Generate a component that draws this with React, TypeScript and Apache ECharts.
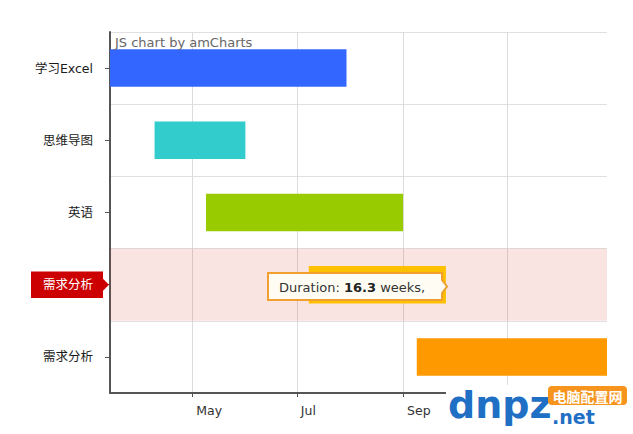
import React, { useEffect, useRef } from 'react';
import * as echarts from 'echarts';

const categories = ['学习Excel', '思维导图', '英语', '需求分析', '需求分析'];
const startDates = ['2016-03-14', '2016-04-09', '2016-05-09', '2016-07-08', '2016-09-09'];
const endDates = ['2016-07-30', '2016-06-01', '2016-09-01', '2016-09-26', '2016-12-29'];
const barColors = ['#3366FF', '#33CCCC', '#99CC00', '#FFC000', '#FF9900'];
const monthLabels = ['Jan', 'Feb', 'Mar', 'Apr', 'May', 'Jun', 'Jul', 'Aug', 'Sep', 'Oct', 'Nov', 'Dec'];
// tick labels visible in the reference (Nov is hidden behind the watermark)
const visibleTickLabels = ['May', 'Jul', 'Sep'];
const axisMin = '2016-03-14';
const axisMax = '2016-12-29';
const highlightIndex = 3;
const tooltipParts = ['Duration: ', '16.3', ' weeks,'];

const FONT = '"DejaVu Sans", "Noto Sans CJK SC", sans-serif';

export default function App() {
  const ref = useRef<HTMLDivElement>(null);

  useEffect(() => {
    if (!ref.current) return;
    const chart = echarts.init(ref.current, null, { renderer: 'svg' });
    const parse = (s: string) => +echarts.time.parse(s);

    const taskData = categories.map((_, i) => [i, parse(startDates[i]), parse(endDates[i])]);

    const option: any = {
      animation: false,
      grid: { left: 110, right: 26, top: 32, bottom: 41, containLabel: false },
      xAxis: {
        type: 'time',
        min: parse(axisMin),
        max: parse(axisMax),
        splitNumber: 4,
        axisLine: { show: true, lineStyle: { color: '#555', width: 2 } },
        axisTick: { show: true, length: 4, lineStyle: { color: '#555' } },
        splitLine: { show: true, showMaxLine: false, lineStyle: { color: '#dcdcdc' } },
        axisLabel: {
          color: '#333',
          fontSize: 12.5,
          fontFamily: FONT,
          margin: 11,
          align: 'left',
          padding: [0, 0, 0, 4],
          hideOverlap: false,
          formatter: (value: number) => {
            const d = new Date(value);
            if (d.getDate() !== 1) return '';
            const m = monthLabels[d.getMonth()];
            return visibleTickLabels.indexOf(m) >= 0 ? m : '';
          },
        },
      },
      yAxis: {
        type: 'category',
        data: categories,
        inverse: true,
        axisLine: { show: true, lineStyle: { color: '#555', width: 2 } },
        axisTick: { show: true, alignWithLabel: true, length: 5, lineStyle: { color: '#555' } },
        splitLine: { show: true, lineStyle: { color: '#e0e0e0' } },
        axisLabel: {
          margin: 7,
          fontSize: 12.5,
          fontFamily: FONT,
          color: '#1a1a1a',
          formatter: (v: string, i: number) => (i === highlightIndex ? `{hl|${v}}` : `{n|${v}}`),
          rich: {
            n: { padding: [0, 10, 0, 0], fontSize: 12.5, fontFamily: FONT, color: '#1a1a1a' },
            hl: {
              backgroundColor: '#CC0000',
              color: '#ffffff',
              padding: [7, 10, 7, 12],
              fontSize: 12.5,
              fontFamily: FONT,
            },
          },
        },
      },
      series: [
        {
          type: 'custom',
          name: 'band',
          silent: true,
          z: 1,
          data: [[highlightIndex]],
          encode: { y: 0 },
          renderItem: (params: any, api: any) => {
            const idx = api.value(0);
            const c = api.coord([parse(axisMin), idx]);
            const h = api.size([0, 1])[1];
            const cs = params.coordSys;
            return {
              type: 'group',
              children: [
                {
                  type: 'rect',
                  shape: { x: cs.x, y: c[1] - h / 2, width: cs.width, height: h },
                  style: { fill: 'rgba(215,50,30,0.13)' },
                },
                {
                  type: 'polygon',
                  shape: {
                    points: [
                      [cs.x - 8, c[1] - 7],
                      [cs.x - 1, c[1]],
                      [cs.x - 8, c[1] + 7],
                    ],
                  },
                  style: { fill: '#CC0000' },
                },
              ],
            };
          },
        },
        {
          type: 'custom',
          name: 'tasks',
          z: 2,
          data: taskData,
          encode: { x: [1, 2], y: 0 },
          renderItem: (params: any, api: any) => {
            const idx = api.value(0);
            const s = api.coord([api.value(1), idx]);
            const e = api.coord([api.value(2), idx]);
            const h = api.size([0, 1])[1] * 0.52;
            const cs = params.coordSys;
            const shape = echarts.graphic.clipRectByRect(
              { x: s[0], y: s[1] - h / 2, width: e[0] - s[0], height: h },
              { x: cs.x, y: cs.y, width: cs.width, height: cs.height }
            );
            return shape && { type: 'rect', shape, style: { fill: barColors[idx] } };
          },
        },
      ],
      graphic: {
        elements: [
          {
            type: 'text',
            x: 115,
            y: 36,
            z: 100,
            style: { text: 'JS chart by amCharts', fill: '#666', font: `13px ${FONT}` },
          },
          {
            type: 'polygon',
            z: 100,
            shape: {
              points: [
                [268, 273],
                [442, 273],
                [442, 280],
                [447, 286.5],
                [442, 293],
                [442, 300],
                [268, 300],
              ],
            },
            style: { fill: '#FFFDF3', stroke: '#F0A030', lineWidth: 2 },
          },
          {
            type: 'text',
            x: 279,
            y: 287,
            z: 101,
            style: {
              text: `{a|${tooltipParts[0]}}{b|${tooltipParts[1]}}{a|${tooltipParts[2]}}`,
              verticalAlign: 'middle',
              rich: {
                a: { fontSize: 13, fontFamily: FONT, fill: '#333' },
                b: { fontSize: 13, fontFamily: FONT, fill: '#222', fontWeight: 'bold' },
              },
            },
          },
          {
            type: 'rect',
            z: 200,
            shape: { x: 446, y: 385, width: 187, height: 49 },
            style: { fill: '#ffffff' },
          },
          {
            type: 'text',
            z: 201,
            x: 448,
            y: 424,
            style: { text: 'dnpz', fill: '#1F6FC5', font: `bold 38px ${FONT}`, verticalAlign: 'bottom' },
          },
          {
            type: 'text',
            z: 201,
            x: 552,
            y: 425,
            style: {
              text: '.net',
              fill: '#1F6FC5',
              font: `bold 19px ${FONT}`,
              lineHeight: 17,
              verticalAlign: 'bottom',
            },
          },
          {
            type: 'rect',
            z: 201,
            shape: { x: 548, y: 386, width: 79, height: 19, r: 4 },
            style: { fill: '#F7941D' },
          },
          {
            type: 'text',
            z: 202,
            x: 587.5,
            y: 395.5,
            style: {
              text: '电脑配置网',
              fill: '#ffffff',
              font: 'bold 14px "Noto Sans CJK SC", sans-serif',
              lineHeight: 15,
              align: 'center',
              verticalAlign: 'middle',
            },
          },
        ],
      },
    };

    chart.setOption(option);
    return () => chart.dispose();
  }, []);

  return (
    <div
      ref={ref}
      style={{ position: 'fixed', left: 0, top: 0, width: 633, height: 434, background: '#fff' }}
    />
  );
}
